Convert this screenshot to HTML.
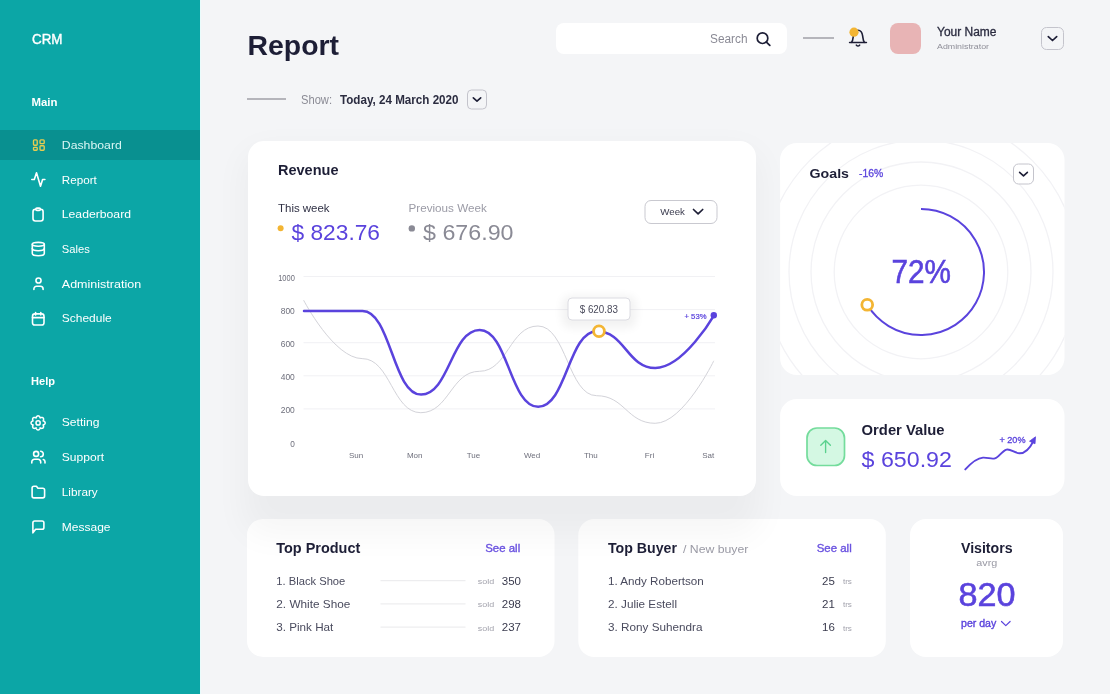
<!DOCTYPE html>
<html><head><meta charset="utf-8"><title>CRM Report</title>
<style>html,body{margin:0;padding:0;width:1110px;height:694px;overflow:hidden;background:#f4f5f7}
svg{display:block;font-family:"Liberation Sans", Arial, sans-serif;will-change:transform}</style></head>
<body><svg width="1110" height="694" viewBox="0 0 1110 694">
<rect x="0" y="0" width="1110" height="694" fill="#f4f5f7"/>
<rect x="0" y="0" width="200" height="694" fill="#0ca6a6"/>
<rect x="200" y="0" width="1" height="694" fill="#e9fbfb"/>
<rect x="0" y="130" width="200" height="30" fill="#099090"/>
<text x="32" y="44" font-size="14" fill="#ffffff" textLength="30.5" lengthAdjust="spacingAndGlyphs" stroke="#ffffff" stroke-width="0.4">CRM</text>
<text x="31.5" y="106" font-size="10.5" fill="#ffffff" font-weight="700" textLength="26" lengthAdjust="spacingAndGlyphs">Main</text>
<text x="31" y="385" font-size="10.5" fill="#ffffff" font-weight="700" textLength="24" lengthAdjust="spacingAndGlyphs">Help</text>
<text x="61.8" y="148.6" font-size="11.3" fill="#d8f6f4" textLength="60" lengthAdjust="spacingAndGlyphs">Dashboard</text>
<text x="61.8" y="183.6" font-size="11.3" fill="#ffffff" textLength="35" lengthAdjust="spacingAndGlyphs">Report</text>
<text x="61.8" y="218.1" font-size="11.3" fill="#ffffff" textLength="69.2" lengthAdjust="spacingAndGlyphs">Leaderboard</text>
<text x="61.8" y="252.6" font-size="11.3" fill="#ffffff" textLength="28" lengthAdjust="spacingAndGlyphs">Sales</text>
<text x="61.8" y="287.6" font-size="11.3" fill="#ffffff" textLength="79.3" lengthAdjust="spacingAndGlyphs">Administration</text>
<text x="61.8" y="322.1" font-size="11.3" fill="#ffffff" textLength="49.9" lengthAdjust="spacingAndGlyphs">Schedule</text>
<text x="61.8" y="426.1" font-size="11.3" fill="#ffffff" textLength="37.7" lengthAdjust="spacingAndGlyphs">Setting</text>
<text x="61.8" y="460.6" font-size="11.3" fill="#ffffff" textLength="42.2" lengthAdjust="spacingAndGlyphs">Support</text>
<text x="61.8" y="495.6" font-size="11.3" fill="#ffffff" textLength="35.9" lengthAdjust="spacingAndGlyphs">Library</text>
<text x="61.8" y="530.6" font-size="11.3" fill="#ffffff" textLength="48.7" lengthAdjust="spacingAndGlyphs">Message</text>
<g fill="none" stroke="#e8cd50" stroke-width="1.35" stroke-linejoin="round"><rect x="33.5" y="139.8" width="3.7" height="5.4" rx="0.9"/><rect x="40" y="139.8" width="4.2" height="3.8" rx="0.9"/><rect x="33.5" y="147.3" width="3.7" height="2.9" rx="0.8"/><rect x="40" y="145.7" width="4.2" height="4.5" rx="0.9"/></g>
<g fill="none" stroke="#ffffff" stroke-width="1.6" stroke-linecap="round" stroke-linejoin="round"><polyline points="31.8,179.5 34.3,179.5 36.5,172.8 40.5,186.2 42.6,179.5 44.9,179.5"/><rect x="33" y="209.3" width="10.1" height="11.7" rx="2.4"/><rect x="35.8" y="208.1" width="4.6" height="2.3" rx="1.15" fill="#0ca6a6"/><ellipse cx="38.3" cy="244.3" rx="6" ry="1.9"/><path d="M32.3 248.6 c0 1.2 2.7 2.1 6 2.1 s6 -0.9 6 -2.1"/><path d="M32.3 244.3 V253.6 c0 1.2 2.7 2.1 6 2.1 s6 -0.9 6 -2.1 V244.3"/><circle cx="38.5" cy="280.5" r="2.55"/><path d="M33.9 289.5 v-0.6 a2.7 2.7 0 0 1 2.7 -2.7 h3.8 a2.7 2.7 0 0 1 2.7 2.7 v0.6"/><rect x="32.5" y="313.9" width="11.5" height="11.1" rx="2.3"/><path d="M32.5 317.6 H44 M35.6 312.6 V315 M40.8 312.6 V315"/><path d="M38.10,415.85 L38.28,415.86 L38.47,415.89 L38.65,415.95 L38.82,416.02 L38.99,416.11 L39.16,416.23 L39.31,416.36 L39.46,416.51 L39.59,416.67 L39.72,416.85 L39.83,417.04 L39.94,417.25 L40.02,417.47 L40.10,417.70 L40.15,417.96 L40.37,417.81 L40.58,417.70 L40.80,417.61 L41.01,417.53 L41.23,417.48 L41.45,417.44 L41.66,417.42 L41.87,417.42 L42.07,417.44 L42.27,417.47 L42.45,417.52 L42.63,417.60 L42.79,417.69 L42.95,417.79 L43.09,417.91 L43.21,418.05 L43.31,418.21 L43.40,418.37 L43.48,418.55 L43.53,418.73 L43.56,418.93 L43.58,419.13 L43.58,419.34 L43.56,419.55 L43.52,419.77 L43.47,419.99 L43.39,420.20 L43.30,420.42 L43.19,420.63 L43.04,420.85 L43.30,420.90 L43.53,420.98 L43.75,421.06 L43.96,421.17 L44.15,421.28 L44.33,421.41 L44.49,421.54 L44.64,421.69 L44.77,421.84 L44.89,422.01 L44.98,422.18 L45.05,422.35 L45.11,422.53 L45.14,422.72 L45.15,422.90 L45.14,423.08 L45.11,423.27 L45.05,423.45 L44.98,423.62 L44.89,423.79 L44.77,423.96 L44.64,424.11 L44.49,424.26 L44.33,424.39 L44.15,424.52 L43.96,424.63 L43.75,424.74 L43.53,424.82 L43.30,424.90 L43.04,424.95 L43.19,425.17 L43.30,425.38 L43.39,425.60 L43.47,425.81 L43.52,426.03 L43.56,426.25 L43.58,426.46 L43.58,426.67 L43.56,426.87 L43.53,427.07 L43.48,427.25 L43.40,427.43 L43.31,427.59 L43.21,427.75 L43.09,427.89 L42.95,428.01 L42.79,428.11 L42.63,428.20 L42.45,428.28 L42.27,428.33 L42.07,428.36 L41.87,428.38 L41.66,428.38 L41.45,428.36 L41.23,428.32 L41.01,428.27 L40.80,428.19 L40.58,428.10 L40.37,427.99 L40.15,427.84 L40.10,428.10 L40.02,428.33 L39.94,428.55 L39.83,428.76 L39.72,428.95 L39.59,429.13 L39.46,429.29 L39.31,429.44 L39.16,429.57 L38.99,429.69 L38.82,429.78 L38.65,429.85 L38.47,429.91 L38.28,429.94 L38.10,429.95 L37.92,429.94 L37.73,429.91 L37.55,429.85 L37.38,429.78 L37.21,429.69 L37.04,429.57 L36.89,429.44 L36.74,429.29 L36.61,429.13 L36.48,428.95 L36.37,428.76 L36.26,428.55 L36.18,428.33 L36.10,428.10 L36.05,427.84 L35.83,427.99 L35.62,428.10 L35.40,428.19 L35.19,428.27 L34.97,428.32 L34.75,428.36 L34.54,428.38 L34.33,428.38 L34.13,428.36 L33.93,428.33 L33.75,428.28 L33.57,428.20 L33.41,428.11 L33.25,428.01 L33.11,427.89 L32.99,427.75 L32.89,427.59 L32.80,427.43 L32.72,427.25 L32.67,427.07 L32.64,426.87 L32.62,426.67 L32.62,426.46 L32.64,426.25 L32.68,426.03 L32.73,425.81 L32.81,425.60 L32.90,425.38 L33.01,425.17 L33.16,424.95 L32.90,424.90 L32.67,424.82 L32.45,424.74 L32.24,424.63 L32.05,424.52 L31.87,424.39 L31.71,424.26 L31.56,424.11 L31.43,423.96 L31.31,423.79 L31.22,423.62 L31.15,423.45 L31.09,423.27 L31.06,423.08 L31.05,422.90 L31.06,422.72 L31.09,422.53 L31.15,422.35 L31.22,422.18 L31.31,422.01 L31.43,421.84 L31.56,421.69 L31.71,421.54 L31.87,421.41 L32.05,421.28 L32.24,421.17 L32.45,421.06 L32.67,420.98 L32.90,420.90 L33.16,420.85 L33.01,420.63 L32.90,420.42 L32.81,420.20 L32.73,419.99 L32.68,419.77 L32.64,419.55 L32.62,419.34 L32.62,419.13 L32.64,418.93 L32.67,418.73 L32.72,418.55 L32.80,418.37 L32.89,418.21 L32.99,418.05 L33.11,417.91 L33.25,417.79 L33.41,417.69 L33.57,417.60 L33.75,417.52 L33.93,417.47 L34.13,417.44 L34.33,417.42 L34.54,417.42 L34.75,417.44 L34.97,417.48 L35.19,417.53 L35.40,417.61 L35.62,417.70 L35.83,417.81 L36.05,417.96 L36.10,417.70 L36.18,417.47 L36.26,417.25 L36.37,417.04 L36.48,416.85 L36.61,416.67 L36.74,416.51 L36.89,416.36 L37.04,416.23 L37.21,416.11 L37.38,416.02 L37.55,415.95 L37.73,415.89 L37.92,415.86Z" stroke-width="1.5"/><circle cx="38.1" cy="422.9" r="2.1" stroke-width="1.5"/><circle cx="36.1" cy="453.9" r="2.5"/><path d="M40.6 451.3 a2.7 2.7 0 0 1 0 5.4"/><path d="M31.8 463 v-1.1 a2.6 2.6 0 0 1 2.6 -2.6 h3.7 a2.6 2.6 0 0 1 2.6 2.6 v1.1"/><path d="M43.3 459.5 a2.4 2.4 0 0 1 1.7 2.3 v1.2"/><path d="M32.1 496.1 V488.1 a1.8 1.8 0 0 1 1.8 -1.8 H36.4 l1.6 2 H42.8 a1.8 1.8 0 0 1 1.8 1.8 V496.1 a1.8 1.8 0 0 1 -1.8 1.8 H33.9 a1.8 1.8 0 0 1 -1.8 -1.8 Z"/><path d="M32.9 532.9 V522.8 a1.8 1.8 0 0 1 1.8 -1.8 H42.1 a1.8 1.8 0 0 1 1.8 1.8 V527.4 a1.8 1.8 0 0 1 -1.8 1.8 H35.6 Z"/></g>
<text x="247.5" y="55" font-size="28" fill="#1d1e36" font-weight="700" textLength="91.5" lengthAdjust="spacingAndGlyphs">Report</text>
<rect x="247" y="98.3" width="39" height="1.4" fill="#9a9aa2"/>
<text x="301" y="104" font-size="12" fill="#8b8b95" textLength="31" lengthAdjust="spacingAndGlyphs">Show:</text>
<text x="340" y="104" font-size="12" fill="#2b2c40" font-weight="700" textLength="118.5" lengthAdjust="spacingAndGlyphs">Today, 24 March 2020</text>
<rect x="467.5" y="90" width="19" height="19" rx="4" fill="#f4f5f7" stroke="#c4c4cc" stroke-width="1"/>
<path d="M473.3 97.8 l3.7 3.4 l3.7 -3.4" fill="none" stroke="#1d1e36" stroke-width="1.6" stroke-linecap="round" stroke-linejoin="round"/>
<rect x="556" y="23" width="231" height="31" rx="8" fill="#ffffff"/>
<text x="710" y="43" font-size="12" fill="#8a8a95" textLength="37.5" lengthAdjust="spacingAndGlyphs">Search</text>
<circle cx="762.5" cy="38.2" r="5.3" fill="none" stroke="#1d1e36" stroke-width="1.7"/><line x1="766.4" y1="42.1" x2="769.8" y2="45.3" stroke="#1d1e36" stroke-width="1.8" stroke-linecap="round"/>
<rect x="803" y="37.3" width="31" height="1.4" fill="#9a9aa2"/>
<g fill="none" stroke="#1d1e36" stroke-width="1.6" stroke-linecap="round" stroke-linejoin="round"><path d="M849.6 42.5 H866.4"/><path d="M851.6 42.3 C852.9 41 853 38.5 853.3 36.2 C853.8 32.2 855.5 30.3 858 30.3 C860.5 30.3 862.2 32.2 862.7 36.2 C863 38.5 863.1 41 864.4 42.3"/><path d="M856.4 45.2 Q858 46.9 859.6 45.2"/></g>
<circle cx="854" cy="32.2" r="4.6" fill="#f3b533"/>
<rect x="890" y="23" width="31" height="31" rx="8" fill="#e8b4b5"/>
<text x="937" y="36.3" font-size="12" fill="#2b2c40" textLength="59.5" lengthAdjust="spacingAndGlyphs" stroke="#2b2c40" stroke-width="0.3">Your Name</text>
<text x="937" y="49.3" font-size="7.5" fill="#8f8f99" textLength="52" lengthAdjust="spacingAndGlyphs">Administrator</text>
<rect x="1041.5" y="27.5" width="22" height="22" rx="5" fill="#f4f5f7" stroke="#c4c4cc" stroke-width="1"/>
<path d="M1048.3 36.6 l4.2 3.9 l4.2 -3.9" fill="none" stroke="#1d1e36" stroke-width="1.7" stroke-linecap="round" stroke-linejoin="round"/>
<defs><filter id="sh" x="-10%" y="-10%" width="120%" height="130%"><feDropShadow dx="0" dy="3" stdDeviation="6" flood-color="#7a7f95" flood-opacity="0.07"/></filter><filter id="tb" x="-50%" y="-50%" width="200%" height="200%"><feGaussianBlur stdDeviation="5"/></filter><filter id="bl" x="-20%" y="-20%" width="140%" height="140%"><feGaussianBlur stdDeviation="17"/></filter><clipPath id="gc"><rect x="780" y="143" width="284.5" height="232" rx="17"/></clipPath><linearGradient id="bg1" x1="0" y1="0" x2="0" y2="1"><stop offset="0" stop-color="#f9f9fa"/><stop offset="0.35" stop-color="#ffffff"/></linearGradient></defs>
<rect x="780" y="143" width="284.5" height="232" rx="17" fill="#ffffff"/>
<rect x="780" y="399" width="284.5" height="97" rx="17" fill="#ffffff"/>
<rect x="247" y="519" width="307.5" height="138" rx="16" fill="#ffffff"/>
<rect x="578.3" y="519" width="307.5" height="138" rx="16" fill="#ffffff"/>
<rect x="910" y="519" width="153" height="138" rx="16" fill="#ffffff"/>
<rect x="244" y="150" width="516" height="385" rx="20" fill="#000" opacity="0.034" filter="url(#bl)"/>
<rect x="248" y="141" width="508" height="355" rx="16" fill="#fff"/>
<text x="278" y="175" font-size="14.5" fill="#1d1e36" font-weight="700" textLength="60.5" lengthAdjust="spacingAndGlyphs">Revenue</text>
<text x="278" y="212" font-size="11.3" fill="#2f3044" textLength="51.6" lengthAdjust="spacingAndGlyphs">This week</text>
<circle cx="280.6" cy="228.2" r="3" fill="#f3b533"/>
<text x="291.5" y="240" font-size="22" fill="#5a43dd" textLength="88.5" lengthAdjust="spacingAndGlyphs">$ 823.76</text>
<text x="408.5" y="212" font-size="11.3" fill="#9b9ba6" textLength="78.3" lengthAdjust="spacingAndGlyphs">Previous Week</text>
<circle cx="411.8" cy="228.4" r="3.2" fill="#8a8a95"/>
<text x="423" y="240" font-size="22" fill="#8a8a95" textLength="90.5" lengthAdjust="spacingAndGlyphs">$ 676.90</text>
<rect x="645" y="200.5" width="72" height="23" rx="6" fill="#fff" stroke="#c9c9d0" stroke-width="1"/>
<text x="660.3" y="215.4" font-size="9.5" fill="#3a3b4e" textLength="24.6" lengthAdjust="spacingAndGlyphs">Week</text>
<path d="M693.5 209.5 l4.6 4.3 l4.6 -4.3" fill="none" stroke="#1d1e36" stroke-width="1.7" stroke-linecap="round" stroke-linejoin="round"/>
<rect x="303.5" y="276.0" width="411.5" height="1" fill="#f1f1f4"/>
<text x="294.8" y="281.0" font-size="8.5" fill="#6e6f7c" text-anchor="end" textLength="16.6" lengthAdjust="spacingAndGlyphs">1000</text>
<rect x="303.5" y="309.1" width="411.5" height="1" fill="#f1f1f4"/>
<text x="294.8" y="314.1" font-size="8.5" fill="#6e6f7c" text-anchor="end" textLength="14.1" lengthAdjust="spacingAndGlyphs">800</text>
<rect x="303.5" y="342.2" width="411.5" height="1" fill="#f1f1f4"/>
<text x="294.8" y="347.2" font-size="8.5" fill="#6e6f7c" text-anchor="end" textLength="14.1" lengthAdjust="spacingAndGlyphs">600</text>
<rect x="303.5" y="375.3" width="411.5" height="1" fill="#f1f1f4"/>
<text x="294.8" y="380.3" font-size="8.5" fill="#6e6f7c" text-anchor="end" textLength="14.1" lengthAdjust="spacingAndGlyphs">400</text>
<rect x="303.5" y="408.4" width="411.5" height="1" fill="#f1f1f4"/>
<text x="294.8" y="413.4" font-size="8.5" fill="#6e6f7c" text-anchor="end" textLength="14.1" lengthAdjust="spacingAndGlyphs">200</text>
<text x="294.8" y="447.0" font-size="8.5" fill="#6e6f7c" text-anchor="end" textLength="4.6" lengthAdjust="spacingAndGlyphs">0</text>
<text x="356.0" y="458.3" font-size="8" fill="#6e6f7c" text-anchor="middle">Sun</text>
<text x="414.7" y="458.3" font-size="8" fill="#6e6f7c" text-anchor="middle">Mon</text>
<text x="473.4" y="458.3" font-size="8" fill="#6e6f7c" text-anchor="middle">Tue</text>
<text x="532.1" y="458.3" font-size="8" fill="#6e6f7c" text-anchor="middle">Wed</text>
<text x="590.8" y="458.3" font-size="8" fill="#6e6f7c" text-anchor="middle">Thu</text>
<text x="649.5" y="458.3" font-size="8" fill="#6e6f7c" text-anchor="middle">Fri</text>
<text x="708.2" y="458.3" font-size="8" fill="#6e6f7c" text-anchor="middle">Sat</text>
<path d="M303.60,300.20 C303.60,300.20 334.07,358.60 362.20,358.60 C390.33,358.60 392.67,412.70 420.80,412.70 C448.93,412.70 451.27,371.30 479.40,371.30 C507.53,371.30 509.87,326.00 538.00,326.00 C566.13,326.00 568.47,395.70 596.60,395.70 C624.73,395.70 627.07,423.30 655.20,423.30 C683.33,423.30 713.80,360.80 713.80,360.80" fill="none" stroke="#d3d3d9" stroke-width="1"/>
<path d="M304.00,311.00 C304.00,311.00 334.45,311.00 362.55,311.00 C390.65,311.00 393.00,394.60 421.10,394.60 C449.20,394.60 451.55,330.00 479.65,330.00 C507.75,330.00 510.10,406.80 538.20,406.80 C566.30,406.80 568.65,331.20 596.75,331.20 C624.85,331.20 627.20,368.00 655.30,368.00 C683.40,368.00 713.85,315.60 713.85,315.60" fill="none" stroke="#5a43dd" stroke-width="2.5" stroke-linecap="round"/>
<circle cx="713.8" cy="315.2" r="3.2" fill="#5a43dd"/>
<text x="684.5" y="318.5" font-size="7.5" fill="#5a43dd" textLength="22" lengthAdjust="spacingAndGlyphs" stroke="#5a43dd" stroke-width="0.2">+ 53%</text>
<rect x="562" y="296" width="74" height="32" rx="8" fill="#000" opacity="0.05" filter="url(#tb)"/>
<rect x="568" y="298" width="62" height="22" rx="4" fill="#fff" stroke="#dcdce2" stroke-width="1"/>
<text x="579.7" y="312.6" font-size="10.5" fill="#4a4b5c" textLength="38.3" lengthAdjust="spacingAndGlyphs">$ 620.83</text>
<circle cx="599" cy="331.3" r="5.4" fill="#fff" stroke="#f3b533" stroke-width="2.8"/>
<g clip-path="url(#gc)" fill="none" stroke="#f2f2f5" stroke-width="1.3">
<circle cx="921" cy="272" r="86.8"/>
<circle cx="921" cy="272" r="110"/>
<circle cx="921" cy="272" r="132"/>
<circle cx="921" cy="272" r="157.5"/>
</g>
<text x="809.6" y="177.7" font-size="13" fill="#1d1e36" font-weight="700" textLength="39.4" lengthAdjust="spacingAndGlyphs">Goals</text>
<text x="859" y="177.4" font-size="11" fill="#5a43dd" textLength="24.2" lengthAdjust="spacingAndGlyphs" stroke="#5a43dd" stroke-width="0.3">-16%</text>
<rect x="1013.5" y="164" width="20" height="20" rx="5" fill="#fff" stroke="#c4c4cc" stroke-width="1"/>
<path d="M1019.6 172.3 l3.9 3.6 l3.9 -3.6" fill="none" stroke="#1d1e36" stroke-width="1.6" stroke-linecap="round" stroke-linejoin="round"/>
<path d="M921.00,209.00 A63,63 0 1 1 867.23,304.82" fill="none" stroke="#5a43dd" stroke-width="2"/>
<circle cx="867.23" cy="304.82" r="5.4" fill="#fff" stroke="#f3b533" stroke-width="2.8"/>
<text x="891.5" y="282.7" font-size="33" fill="#5a43dd" textLength="59.5" lengthAdjust="spacingAndGlyphs" stroke="#5a43dd" stroke-width="0.6">72%</text>
<rect x="807" y="428" width="37.5" height="37.5" rx="10" fill="#d4f8e3" stroke="#74dc9c" stroke-width="1.7"/>
<g fill="none" stroke="#5ad18e" stroke-width="1.35" stroke-linecap="round" stroke-linejoin="round"><path d="M825.6 452.6 V440.6 M820.8 445.2 l4.8 -4.8 l4.8 4.8"/></g>
<text x="861.6" y="435" font-size="14" fill="#1d1e36" font-weight="700" textLength="83" lengthAdjust="spacingAndGlyphs">Order Value</text>
<text x="861.6" y="466.5" font-size="22" fill="#5a43dd" textLength="90.3" lengthAdjust="spacingAndGlyphs">$ 650.92</text>
<path d="M965.3 469.4 C972 462 977 458 983 457.6 C988 457.3 991 459.5 995 458.4 C999 457.3 1002 451 1006.5 449.6 C1010.5 448.5 1014 452.8 1019.5 453.3 C1026 453.5 1030 448 1033.5 441" fill="none" stroke="#5a43dd" stroke-width="1.9" stroke-linecap="round"/>
<path d="M1035.5 436.8 L1029.5 441.2 L1035 443.8 Z" fill="#5a43dd" stroke="#5a43dd" stroke-width="0.8" stroke-linejoin="round"/>
<text x="999.4" y="442.5" font-size="9" fill="#5a43dd" textLength="26.1" lengthAdjust="spacingAndGlyphs" stroke="#5a43dd" stroke-width="0.3">+ 20%</text>
<text x="276.3" y="553" font-size="14.5" fill="#1d1e36" font-weight="700" textLength="84" lengthAdjust="spacingAndGlyphs">Top Product</text>
<text x="485.2" y="552" font-size="11" fill="#6a52e0" textLength="35" lengthAdjust="spacingAndGlyphs" stroke="#6a52e0" stroke-width="0.35">See all</text>
<text x="276.3" y="584.7" font-size="11" fill="#4a4b5e" textLength="69" lengthAdjust="spacingAndGlyphs">1. Black Shoe</text>
<rect x="380.5" y="580.2" width="85" height="1" fill="#e9e9ec"/>
<text x="477.8" y="584.1" font-size="7" fill="#a3a3ad" textLength="16.4" lengthAdjust="spacingAndGlyphs">sold</text>
<text x="521" y="584.7" font-size="11.5" fill="#3a3b4e" text-anchor="end">350</text>
<text x="276.3" y="607.9000000000001" font-size="11" fill="#4a4b5e" textLength="74" lengthAdjust="spacingAndGlyphs">2. White Shoe</text>
<rect x="380.5" y="603.4" width="85" height="1" fill="#e9e9ec"/>
<text x="477.8" y="607.3000000000001" font-size="7" fill="#a3a3ad" textLength="16.4" lengthAdjust="spacingAndGlyphs">sold</text>
<text x="521" y="607.9000000000001" font-size="11.5" fill="#3a3b4e" text-anchor="end">298</text>
<text x="276.3" y="631.1" font-size="11" fill="#4a4b5e" textLength="57" lengthAdjust="spacingAndGlyphs">3. Pink Hat</text>
<rect x="380.5" y="626.6" width="85" height="1" fill="#e9e9ec"/>
<text x="477.8" y="630.5" font-size="7" fill="#a3a3ad" textLength="16.4" lengthAdjust="spacingAndGlyphs">sold</text>
<text x="521" y="631.1" font-size="11.5" fill="#3a3b4e" text-anchor="end">237</text>
<text x="608" y="553" font-size="14.5" fill="#1d1e36" font-weight="700" textLength="69" lengthAdjust="spacingAndGlyphs">Top Buyer</text>
<text x="683" y="552.5" font-size="11" fill="#9999a4" textLength="65.4" lengthAdjust="spacingAndGlyphs">/ New buyer</text>
<text x="816.7" y="552" font-size="11" fill="#6a52e0" textLength="35" lengthAdjust="spacingAndGlyphs" stroke="#6a52e0" stroke-width="0.35">See all</text>
<text x="608" y="584.7" font-size="11" fill="#4a4b5e" textLength="95.8" lengthAdjust="spacingAndGlyphs">1. Andy Robertson</text>
<text x="834.8" y="584.7" font-size="11.5" fill="#3a3b4e" text-anchor="end">25</text>
<text x="842.9" y="584.1" font-size="7" fill="#a3a3ad" textLength="9" lengthAdjust="spacingAndGlyphs">trs</text>
<text x="608" y="607.9000000000001" font-size="11" fill="#4a4b5e" textLength="69" lengthAdjust="spacingAndGlyphs">2. Julie Estell</text>
<text x="834.8" y="607.9000000000001" font-size="11.5" fill="#3a3b4e" text-anchor="end">21</text>
<text x="842.9" y="607.3000000000001" font-size="7" fill="#a3a3ad" textLength="9" lengthAdjust="spacingAndGlyphs">trs</text>
<text x="608" y="631.1" font-size="11" fill="#4a4b5e" textLength="94.5" lengthAdjust="spacingAndGlyphs">3. Rony Suhendra</text>
<text x="834.8" y="631.1" font-size="11.5" fill="#3a3b4e" text-anchor="end">16</text>
<text x="842.9" y="630.5" font-size="7" fill="#a3a3ad" textLength="9" lengthAdjust="spacingAndGlyphs">trs</text>
<text x="986.8" y="553.2" font-size="14.5" fill="#1d1e36" font-weight="700" text-anchor="middle" textLength="51.7" lengthAdjust="spacingAndGlyphs">Visitors</text>
<text x="986.8" y="565.5" font-size="8.5" fill="#9999a4" text-anchor="middle" textLength="21" lengthAdjust="spacingAndGlyphs">avrg</text>
<text x="986.9" y="606" font-size="33" fill="#5a43dd" text-anchor="middle" textLength="57" lengthAdjust="spacingAndGlyphs" stroke="#5a43dd" stroke-width="0.6">820</text>
<text x="961" y="627" font-size="10" fill="#5a43dd" textLength="35.3" lengthAdjust="spacingAndGlyphs" stroke="#5a43dd" stroke-width="0.35">per day</text>
<path d="M1001.5 621.5 l4.3 4.1 l4.3 -4.1" fill="none" stroke="#5a43dd" stroke-width="1.2" stroke-linecap="round" stroke-linejoin="round"/>
</svg></body></html>
